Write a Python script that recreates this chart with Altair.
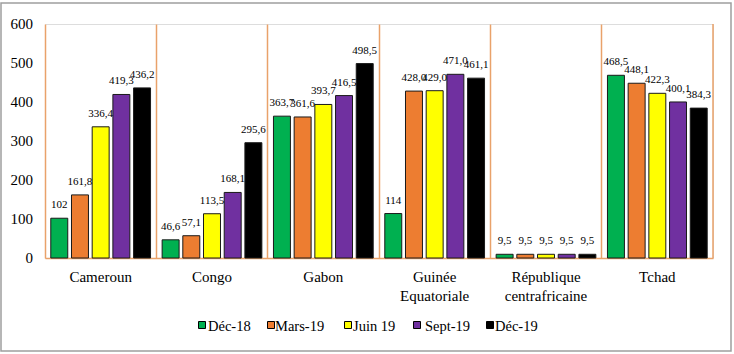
import altair as alt
import pandas as pd

categories = ["Cameroun", "Congo", "Gabon", "Guinée Equatoriale", "République centrafricaine", "Tchad"]
series = ["Déc-18", "Mars-19", "Juin 19", "Sept-19", "Déc-19 "]
colors = ["#00B050", "#ED7D31", "#FFFF00", "#7030A0", "#000000"]

dec18 = [102, 46.6, 363.7, 114, 9.5, 468.5]
mars19 = [161.8, 57.1, 361.6, 428.0, 9.5, 448.1]
juin19 = [336.4, 113.5, 393.7, 429.0, 9.5, 422.3]
sept19 = [419.3, 168.1, 416.5, 471.0, 9.5, 400.1]
dec19 = [436.2, 295.6, 498.5, 461.1, 9.5, 384.3]

lab_dec18 = ["102", "46,6", "363,7", "114", "9,5", "468,5"]
lab_mars19 = ["161,8", "57,1", "361,6", "428,0", "9,5", "448,1"]
lab_juin19 = ["336,4", "113,5", "393,7", "429,0", "9,5", "422,3"]
lab_sept19 = ["419,3", "168,1", "416,5", "471,0", "9,5", "400,1"]
lab_dec19 = ["436,2", "295,6", "498,5", "461,1", "9,5", "384,3"]

y_ticks = [0, 100, 200, 300, 400, 500, 600]
y_tick_labels = ["0", "100", "200", "300", "400", "500", "600"]

vals = [dec18, mars19, juin19, sept19, dec19]
labs = [lab_dec18, lab_mars19, lab_juin19, lab_sept19, lab_dec19]

rows = []
for s, v, l in zip(series, vals, labs):
    for c, vv, ll in zip(categories, v, l):
        rows.append({"country": c, "series": s, "value": vv, "label": ll})
df = pd.DataFrame(rows)
tick_df = pd.DataFrame({"value": y_ticks, "label": y_tick_labels})
cat_df = pd.DataFrame({"country": categories})

FONT = "Liberation Serif"
ORANGE = "#E9A26A"
W, H = 668, 234

x = alt.X("country:N", sort=categories, title=None,
          scale=alt.Scale(paddingInner=0, paddingOuter=0),
          axis=alt.Axis(labels=False, ticks=False, domainColor=ORANGE, domainWidth=1.5,
                        grid=True, gridColor=ORANGE, gridWidth=1.5, bandPosition=0))
xo = alt.XOffset("series:N", sort=series, scale=alt.Scale(paddingInner=0.18, paddingOuter=0.28))
y = alt.Y("value:Q", title=None, scale=alt.Scale(domain=[0, 600], nice=False), axis=None)

bars = alt.Chart(df).mark_bar(stroke="#1a1a1a", strokeWidth=1).encode(
    x=x, xOffset=xo, y=y,
    color=alt.Color("series:N", sort=series,
                    scale=alt.Scale(domain=series, range=colors), legend=None),
)

texts = alt.Chart(df).mark_text(font=FONT, fontSize=11, color="#000000", baseline="alphabetic",
                                dy=-10).encode(x=x, xOffset=xo, y=y, text="label:N")

ylabels = alt.Chart(tick_df).mark_text(font=FONT, fontSize=15, color="#000000", align="right",
                                       baseline="middle").encode(
    x=alt.value(-12), y=y, text="label:N")

xlabels = alt.Chart(cat_df).mark_text(font=FONT, fontSize=15, color="#000000", align="center",
                                      baseline="top", lineBreak=" ", lineHeight=19).encode(
    x=x, y=alt.value(H + 12), text="country:N")

# legend built from marks (symbol centre x, label left x, relative to plot)
leg_sym_x = [157, 226, 303, 372, 445]
leg_lab_x = [163, 230, 308, 380, 450]
legend_layers = []
for name, col, sx, lx in zip(series, colors, leg_sym_x, leg_lab_x):
    d = alt.Data(values=[{"s": name}])
    legend_layers.append(
        alt.Chart(d).mark_square(size=49, filled=True, fill=col, stroke="#000000", strokeWidth=1,
                                 opacity=1).encode(x=alt.value(sx), y=alt.value(301)))
    legend_layers.append(
        alt.Chart(d).mark_text(font=FONT, fontSize=14.5, color="#000000", align="left",
                               baseline="alphabetic").encode(
            x=alt.value(lx), y=alt.value(307), text="s:N"))

right_rule = alt.Chart(alt.Data(values=[{"a": 1}])).mark_rule(color=ORANGE, strokeWidth=1.5).encode(
    x=alt.value(W), y=alt.value(0), y2=alt.value(H))

frame = alt.Chart(alt.Data(values=[{"a": 1}])).mark_rect(
    filled=False, stroke="#9E9E9E", strokeWidth=1.5).encode(
    x=alt.value(-44), x2=alt.value(686), y=alt.value(-21), y2=alt.value(327))

chart = alt.layer(bars, texts, ylabels, xlabels, right_rule, frame, *legend_layers).properties(
    width=W, height=H,
    autosize=alt.AutoSizeParams(type="none"),
    padding={"left": 45, "top": 24, "right": 21, "bottom": 96},
).configure_view(stroke=None).configure(background="#FFFFFF")

chart.save("out.html", embed_options={"renderer": "svg", "actions": False})
